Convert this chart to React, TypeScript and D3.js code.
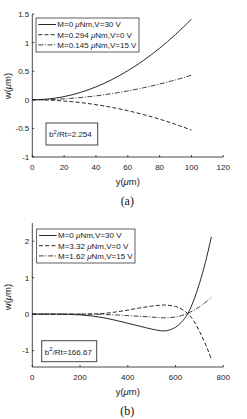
import React from "react";
import * as d3 from "d3";

// ---------- Data (a) ----------
const xA = [0, 10, 20, 30, 40, 50, 60, 70, 80, 90, 100];
const solidA = [0, 0.014, 0.056, 0.127, 0.226, 0.353, 0.508, 0.691, 0.902, 1.142, 1.41];
const dashedA = [0, -0.005, -0.021, -0.048, -0.085, -0.133, -0.191, -0.26, -0.339, -0.429, -0.53];
const dashdotA = [0, 0.004, 0.017, 0.039, 0.069, 0.108, 0.155, 0.211, 0.275, 0.348, 0.43];
const legendA = ["M=0 ", "M=0.294 ", "M=0.145 "];
const legendTailA = ["Nm,V=30 V", "Nm,V=0 V", "Nm,V=15 V"];
const xTicksA = [0, 20, 40, 60, 80, 100, 120];
const yTicksA = [-1, -0.5, 0, 0.5, 1, 1.5];

// ---------- Data (b) ----------
const xB = [0, 50, 100, 150, 200, 250, 300, 350, 400, 450, 500, 550, 600, 625, 650, 675, 700, 725, 750];
const solidB = [0, 0, 0, -0.005, -0.02, -0.05, -0.1, -0.17, -0.25, -0.33, -0.41, -0.46, -0.36, -0.22, 0.0, 0.36, 0.84, 1.42, 2.12];
const dashedB = [0, 0, 0, 0, 0, 0.005, 0.02, 0.06, 0.11, 0.17, 0.22, 0.25, 0.21, 0.14, 0.02, -0.17, -0.47, -0.82, -1.23];
const dashdotB = [0, 0, 0, 0, 0, 0, -0.01, -0.02, -0.04, -0.06, -0.08, -0.1, -0.08, -0.04, 0.02, 0.1, 0.2, 0.32, 0.46];
const legendB = ["M=0 ", "M=3.32 ", "M=1.62 "];
const legendTailB = ["Nm,V=30 V", "Nm,V=0 V", "Nm,V=15 V"];
const xTicksB = [0, 200, 400, 600, 800];
const yTicksB = [-1, 0, 1, 2];

const FONT = "'Liberation Sans', Arial, Helvetica, sans-serif";
const SERIF = "'Liberation Serif', 'DejaVu Serif', serif";
const INK = "#1a1a1a";
const dashes = ["none", "4,2.2", "5,1.6,1,1.6"];

type PanelProps = {
  xs: number[];
  series: number[][];
  xDomain: [number, number];
  yDomain: [number, number];
  top: number;
  bottom: number;
  xTicks: number[];
  yTicks: number[];
  legendHead: string[];
  legendTail: string[];
  legendBox: { x: number; y: number; w: number; h: number };
  noteBox: { x: number; y: number; w: number; h: number };
  noteValue: string;
  tag: string;
  yLabelY: number;
};

function Panel(p: PanelProps) {
  const left = 32.3;
  const right = 223.3;
  const x = d3.scaleLinear().domain(p.xDomain).range([left, right]);
  const y = d3.scaleLinear().domain(p.yDomain).range([p.bottom, p.top]);
  const line = d3
    .line<number>()
    .x((_, i) => x(p.xs[i]))
    .y((d) => y(d))
    .curve(d3.curveMonotoneX);
  const lb = p.legendBox;
  const nb = p.noteBox;
  return (
    <g>
      {p.series.map((s, i) => (
        <path
          key={i}
          d={line(s) || ""}
          fill="none"
          stroke={i === 2 ? "#2a2a2a" : "#111"}
          strokeWidth={0.9}
          strokeDasharray={dashes[i]}
        />
      ))}
      <line x1={left} x2={right} y1={p.bottom} y2={p.bottom} stroke={INK} strokeWidth={0.8} />
      <line x1={left} x2={left} y1={p.top} y2={p.bottom} stroke={INK} strokeWidth={0.8} />
      {p.xTicks.map((t) => (
        <g key={"x" + t}>
          <line x1={x(t)} x2={x(t)} y1={p.bottom} y2={p.bottom - 2} stroke={INK} strokeWidth={0.8} />
          <text x={x(t)} y={p.bottom + 12.5} fontSize={8} fontFamily={FONT} fill={INK} textAnchor="middle">
            {t}
          </text>
        </g>
      ))}
      {p.yTicks.map((t) => (
        <g key={"y" + t}>
          <line x1={left} x2={left + 2} y1={y(t)} y2={y(t)} stroke={INK} strokeWidth={0.8} />
          <text x={left - 3} y={y(t) + 2.9} fontSize={8} fontFamily={FONT} fill={INK} textAnchor="end">
            {t}
          </text>
        </g>
      ))}
      <text x={(left + right) / 2} y={p.bottom + 27.5} fontSize={9.5} fontFamily={FONT} fill={INK} textAnchor="middle">
        y(<tspan fontStyle="italic">μ</tspan>m)
      </text>
      <text
        transform={`translate(11,${p.yLabelY}) rotate(-90)`}
        fontSize={9.5}
        fontFamily={FONT}
        fill={INK}
        textAnchor="middle"
      >
        w(<tspan fontStyle="italic">μ</tspan>m)
      </text>
      <text x={(left + right) / 2 - 0.5} y={p.bottom + 48} fontSize={12} fontFamily={SERIF} fill="#111" textAnchor="middle">
        {p.tag}
      </text>
      <rect x={lb.x} y={lb.y} width={lb.w} height={lb.h} fill="white" stroke={INK} strokeWidth={0.7} />
      {p.legendHead.map((h, i) => {
        const cy = lb.y + 6.5 + i * 10.2;
        return (
          <g key={"l" + i}>
            <line
              x1={lb.x + 2.3}
              x2={lb.x + 20}
              y1={cy}
              y2={cy}
              stroke={i === 2 ? "#2a2a2a" : "#111"}
              strokeWidth={0.9}
              strokeDasharray={dashes[i]}
            />
            <text x={lb.x + 21.3} y={cy + 2.9} fontSize={8} fontFamily={FONT} fill={INK}>
              {h}
              <tspan fontStyle="italic">μ</tspan>
              {p.legendTail[i]}
            </text>
          </g>
        );
      })}
      <rect x={nb.x} y={nb.y} width={nb.w} height={nb.h} fill="white" stroke="#444" strokeWidth={1} />
      <text x={nb.x + 3} y={nb.y + nb.h / 2 + 3.3} fontSize={8} fontFamily={FONT} fill={INK}>
        b<tspan dy={-3.2} fontSize={6}>2</tspan>
        <tspan dy={3.2}>/Rt={p.noteValue}</tspan>
      </text>
    </g>
  );
}

export default function App() {
  return (
    <svg width={247} height={419} style={{ position: "absolute", left: 0, top: 0, background: "white" }}>
      <rect width={247} height={419} fill="white" />
      <Panel
        xs={xA}
        series={[solidA, dashedA, dashdotA]}
        xDomain={[0, 120]}
        yDomain={[-1, 1.5]}
        top={14}
        bottom={157}
        xTicks={xTicksA}
        yTicks={yTicksA}
        legendHead={legendA}
        legendTail={legendTailA}
        legendBox={{ x: 36, y: 18, w: 103, h: 34 }}
        noteBox={{ x: 46, y: 123, w: 51.7, h: 22 }}
        noteValue="2.254"
        tag="(a)"
        yLabelY={86}
      />
      <Panel
        xs={xB}
        series={[solidB, dashedB, dashdotB]}
        xDomain={[0, 800]}
        yDomain={[-1.45, 2.5]}
        top={223}
        bottom={367}
        xTicks={xTicksB}
        yTicks={yTicksB}
        legendHead={legendB}
        legendTail={legendTailB}
        legendBox={{ x: 36.7, y: 229, w: 98.3, h: 34 }}
        noteBox={{ x: 41.7, y: 340.7, w: 55, h: 21 }}
        noteValue="166.67"
        tag="(b)"
        yLabelY={297}
      />
    </svg>
  );
}
